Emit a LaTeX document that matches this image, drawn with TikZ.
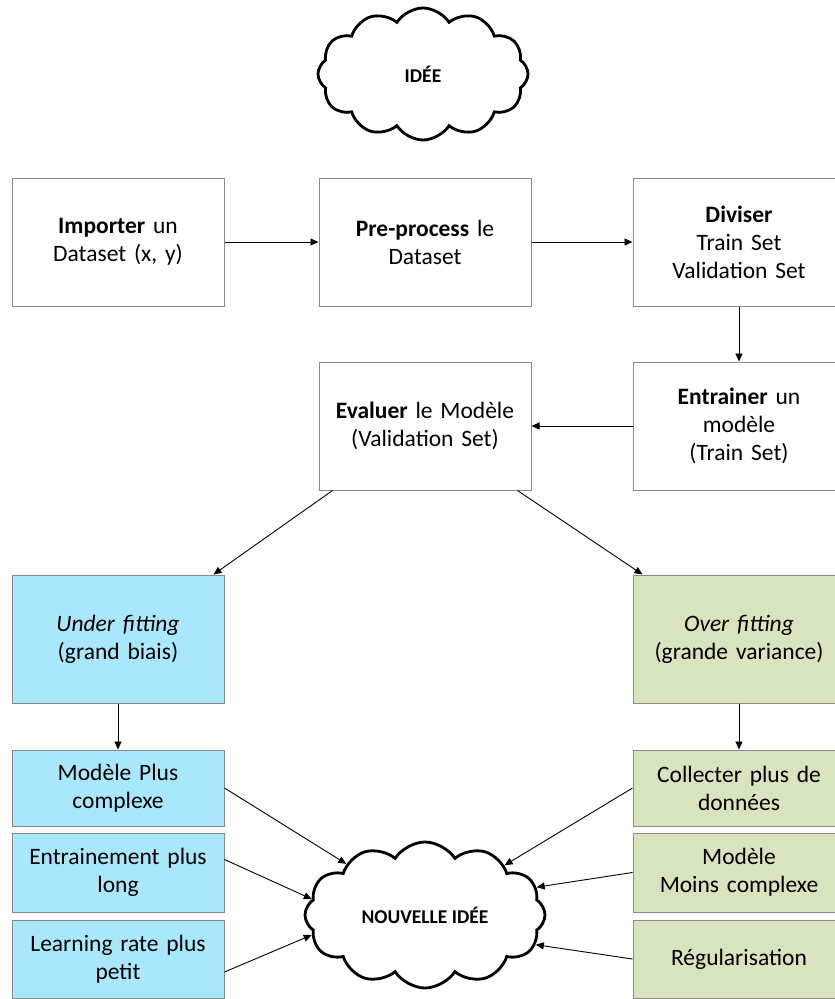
\documentclass[tikz,border=0pt]{standalone}
\usepackage{fontspec}
\setmainfont{Carlito}
\usetikzlibrary{shapes.symbols,arrows.meta,positioning}
\definecolor{cyanfill}{HTML}{A9E8FC}
\definecolor{greenfill}{HTML}{D7E4BD}
\definecolor{boxline}{HTML}{8A8A8A}
\tikzset{
  box/.style={draw=boxline, line width=1pt, rectangle, minimum width=212pt, text width=208pt,
     align=center, font=\fontsize{23.5}{28}\selectfont, inner sep=2pt},
  bigbox/.style={box, minimum height=128pt},
  smallbox/.style={box, minimum height=77pt},
  cyanbox/.style={fill=cyanfill},
  greenbox/.style={fill=greenfill},
  idea/.style={draw=black, line width=2.8pt, cloud, cloud puffs=12, cloud puff arc=115,
     cloud ignores aspect, font=\fontsize{19.5}{22}\selectfont\bfseries, inner sep=0pt},
  arr/.style={draw=black, line width=0.9pt, -{Triangle[length=8pt,width=7pt]}}
}
\begin{document}
\begin{tikzpicture}[x=1pt,y=-1pt]
\useasboundingbox (0,0) rectangle (835,999);
\clip (0,0) rectangle (835,999);
\node[idea, minimum width=210pt, minimum height=132pt] (idee) at (423,74) {IDÉE};

\node[bigbox] (imp) at (118,242) {\textbf{Importer} un\\Dataset (x, y)};
\node[bigbox] (pre) at (425,242) {\textbf{Pre-process} le\\Dataset};
\node[bigbox] (div) at (739,242) {\textbf{Diviser}\\Train Set\\Validation Set};
\node[bigbox] (ent) at (739,426) {\textbf{Entrainer} un\\modèle\\(Train Set)};
\node[bigbox] (eva) at (425,426) {\textbf{Evaluer} le Modèle\\(Validation Set)};
\node[bigbox, cyanbox] (under) at (118,639) {\textit{Under fitting}\\(grand biais)};
\node[bigbox, greenbox] (over) at (739,639) {\textit{Over fitting}\\(grande variance)};

\node[smallbox, cyanbox, minimum height=76pt] (l1) at (118,788) {Modèle Plus\\complexe};
\node[smallbox, cyanbox, minimum height=79pt] (l2) at (118,872.5) {Entrainement plus\\long};
\node[smallbox, cyanbox, minimum height=78pt] (l3) at (118,959) {Learning rate plus\\petit};
\node[smallbox, greenbox, minimum height=76pt] (r1) at (739,788) {Collecter plus de\\données};
\node[smallbox, greenbox, minimum height=79pt] (r2) at (739,872.5) {Modèle\\Moins complexe};
\node[smallbox, greenbox, minimum height=78pt] (r3) at (739,959) {Régularisation};

\node[idea, minimum width=240pt, minimum height=146pt] (nidee) at (425,915) {NOUVELLE IDÉE};

\draw[arr] (imp.east) -- (pre.west);
\draw[arr] (pre.east) -- (div.west);
\draw[arr] (div.south) -- (ent.north);
\draw[arr] (ent.west) -- (eva.west -| eva.east);
\draw[arr] ([xshift=14pt]eva.south west) -- ([xshift=-11pt]under.north east);
\draw[arr] ([xshift=-14pt]eva.south east) -- ([xshift=10pt]over.north west);
\draw[arr] (under.south) -- (l1.north);
\draw[arr] (over.south) -- (r1.north);

\draw[arr] (l1.east) -- (nidee.147);
\draw[arr] ([yshift=13pt]l2.east) -- (nidee.172);
\draw[arr] ([yshift=-13pt]l3.east) -- (nidee.190);
\draw[arr] (r1.west) -- (nidee.32);
\draw[arr] (r2.west) -- (nidee.14);
\draw[arr] (r3.west) -- (nidee.345);
\end{tikzpicture}
\end{document}
